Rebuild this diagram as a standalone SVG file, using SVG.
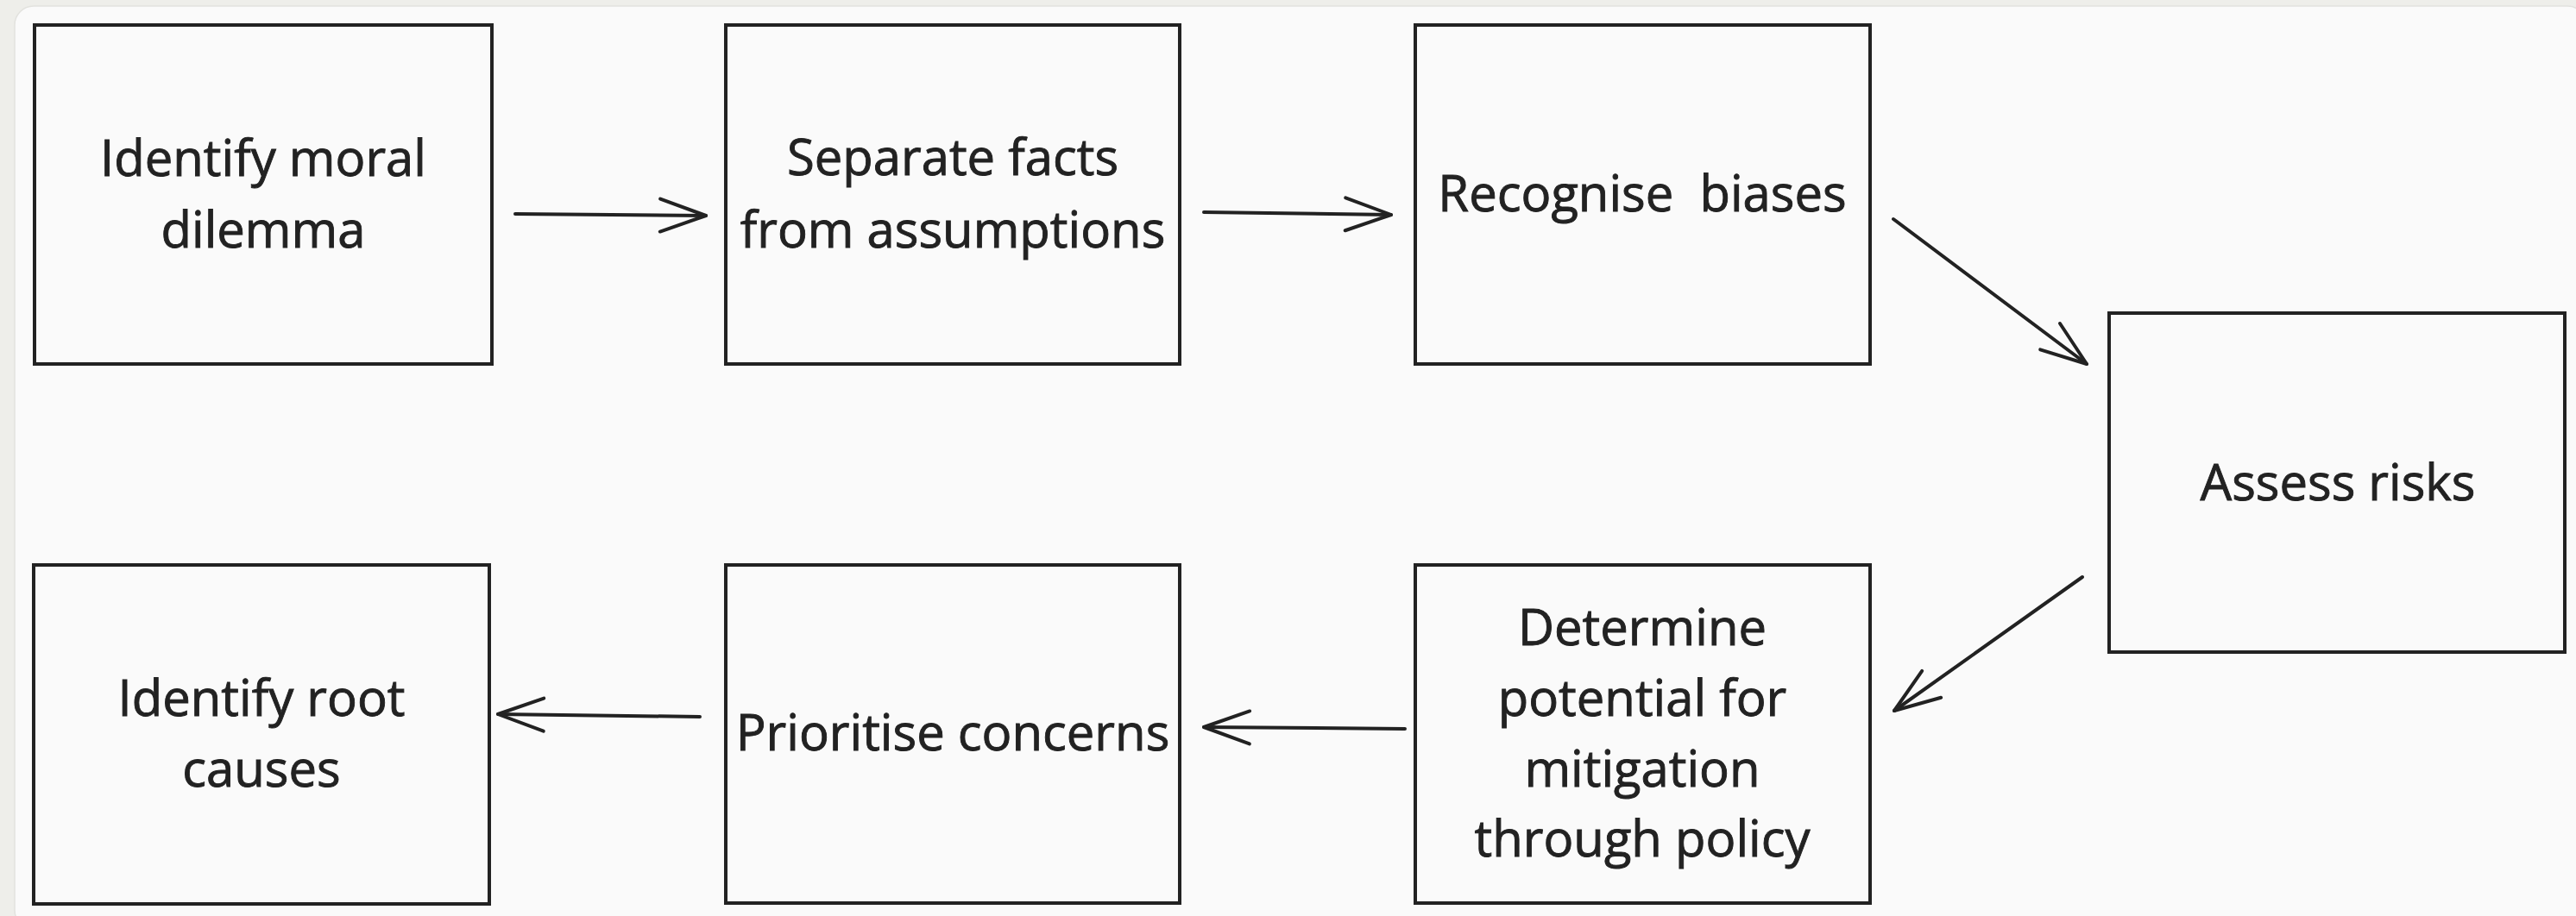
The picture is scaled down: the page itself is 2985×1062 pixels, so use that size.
<svg xmlns="http://www.w3.org/2000/svg" width="2985" height="1062" viewBox="0 0 2985 1062">
  <style>
    .box { fill: #fafafa; stroke: #222; stroke-width: 4; }
    .lbl { font-family: "Open Sans", "Noto Sans", "Liberation Sans", sans-serif; font-size: 58px; fill: #222; stroke: #222; stroke-width: 0.9; text-anchor: middle; white-space: pre; }
    .conn { stroke: #222; stroke-width: 4; fill: none; stroke-linecap: round; }
  </style>
  <defs>
    <marker id="arrow" markerUnits="userSpaceOnUse" viewBox="-60 -25 64 50" refX="0" refY="0" markerWidth="64" markerHeight="50" orient="auto" overflow="visible">
      <path d="M -53 -19 L 0 0 L -53 19" fill="none" stroke="#222" stroke-width="4" stroke-linecap="round" stroke-linejoin="round"/>
    </marker>
  </defs>
  <rect x="0" y="0" width="2985" height="1062" fill="#eeeeea"/>
  <rect x="17" y="7" width="2980" height="1070" rx="22" fill="#fafafa" stroke="#e2e2de" stroke-width="1.5"/>

  <g id="node-identify-moral-dilemma">
    <rect class="box" x="40" y="29" width="530" height="393"/>
    <text class="lbl" x="305" y="204">Identify moral</text>
    <text class="lbl" x="305" y="287">dilemma</text>
  </g>
  <g id="node-separate-facts">
    <rect class="box" x="841" y="29" width="526" height="393"/>
    <text class="lbl" x="1104" y="203">Separate facts</text>
    <text class="lbl" x="1104" y="287">from assumptions</text>
  </g>
  <g id="node-recognise-biases">
    <rect class="box" x="1640" y="29" width="527" height="393"/>
    <text class="lbl" x="1903" y="245" xml:space="preserve">Recognise  biases</text>
  </g>
  <g id="node-assess-risks">
    <rect class="box" x="2444" y="363" width="528" height="393"/>
    <text class="lbl" x="2709" y="580">Assess risks</text>
  </g>
  <g id="node-determine-potential">
    <rect class="box" x="1640" y="655" width="527" height="392"/>
    <text class="lbl" x="1903" y="748">Determine</text>
    <text class="lbl" x="1903" y="830">potential for</text>
    <text class="lbl" x="1903" y="912">mitigation</text>
    <text class="lbl" x="1903" y="993">through policy</text>
  </g>
  <g id="node-prioritise-concerns">
    <rect class="box" x="841" y="655" width="526" height="392"/>
    <text class="lbl" x="1104" y="870">Prioritise concerns</text>
  </g>
  <g id="node-identify-root-causes">
    <rect class="box" x="39" y="655" width="528" height="393"/>
    <text class="lbl" x="303" y="830">Identify root</text>
    <text class="lbl" x="303" y="912">causes</text>
  </g>

  <g id="connectors">
    <line class="conn" x1="597" y1="248" x2="818" y2="250" marker-end="url(#arrow)"/>
    <line class="conn" x1="1395" y1="246" x2="1612" y2="249" marker-end="url(#arrow)"/>
    <line class="conn" x1="2194" y1="254" x2="2418" y2="422" marker-end="url(#arrow)"/>
    <line class="conn" x1="2413" y1="669" x2="2195" y2="824" marker-end="url(#arrow)"/>
    <line class="conn" x1="1628" y1="845" x2="1395" y2="843" marker-end="url(#arrow)"/>
    <line class="conn" x1="811" y1="831" x2="577" y2="828" marker-end="url(#arrow)"/>
  </g>
</svg>
